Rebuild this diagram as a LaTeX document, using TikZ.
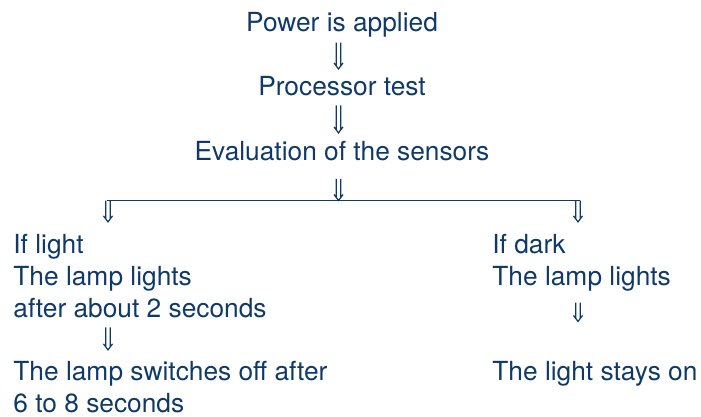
\documentclass[tikz,border=0pt]{standalone}
\usepackage{fontspec}
\setmainfont{TeX Gyre Heros}
\usetikzlibrary{calc,positioning}

\definecolor{navy}{RGB}{15,58,104}

\begin{document}
\begin{tikzpicture}[x=0.5pt,y=-0.5pt,
    txt/.style={inner sep=0pt,text=navy,font=\fontsize{13.15}{16}\selectfont},
    top gap/.store in=\topgap, bottom gap/.store in=\botgap,
    top gap=0pt, bottom gap=0pt,
    % double down arrow, drawn like the glyph
    flow/.style={draw=navy,line width=0.6pt,to path={
      let \p1=(\tikztostart), \p2=(\tikztotarget) in
      (\x1-1.1pt,\y1-\topgap) -- (\x2-1.1pt,\y2+\botgap+1.47pt)
      (\x1+1.1pt,\y1-\topgap) -- (\x2+1.1pt,\y2+\botgap+1.47pt)
      (\x2-2.25pt,\y2+\botgap+3pt) -- (\x2,\y2+\botgap) -- (\x2+2.25pt,\y2+\botgap+3pt)}},
    branch/.style={draw=navy,line width=0.6pt}]
      %\draw[help lines] (0,0) grid[step=50] (701,417);
      \useasboundingbox (0,0) rectangle (701,417);

      \node[txt,anchor=base] (power) at (342,32)  {Power is applied};
      \node[txt,anchor=base] (proc)  at (342,96)  {Processor test};
      \node[txt,anchor=base] (eval)  at (342,160) {Evaluation of the sensors};

      % multi-line nodes sit on their last line
      \node[txt,anchor=base west,align=left] (light) at (13,317)
        {If light\\The lamp lights\\after about 2 seconds};
      \node[txt,anchor=base west,align=left] (off) at (13,412)
        {The lamp switches off after\\6 to 8 seconds};

      \node[txt,anchor=base west,align=left] (dark) at (492,285)
        {If dark\\The lamp lights};
      \node[txt,anchor=base west] (stays) at (492,380) {The light stays on};

      \coordinate (fork)  at (338.5,200.5);
      \coordinate (forkL) at (108,200.5);
      \coordinate (forkR) at (578,200.5);

      \draw[flow,top gap=2.25pt,bottom gap=3.75pt] (power.south -| fork) to (proc.north -| fork);
      \draw[flow,top gap=4.25pt,bottom gap=3.75pt] (proc.south -| fork) to (eval.north -| fork);
      \draw[flow,top gap=9pt] (eval.south -| fork) to (fork);

      \draw[branch] ([xshift=-0.5pt]forkL) -- ([xshift=1pt]forkR);
      \draw[flow,bottom gap=5.75pt] (forkL) to (forkL |- light.north);
      \draw[flow,bottom gap=5.75pt] (forkR) to (forkR |- dark.north);

      \draw[flow,top gap=4.75pt,bottom gap=5.25pt] (light.south -| forkL) to (off.north -| forkL);
      \draw[flow,top gap=5.75pt,bottom gap=19.5pt] (dark.south -| forkR) to (stays.north -| forkR);
\end{tikzpicture}
\end{document}
